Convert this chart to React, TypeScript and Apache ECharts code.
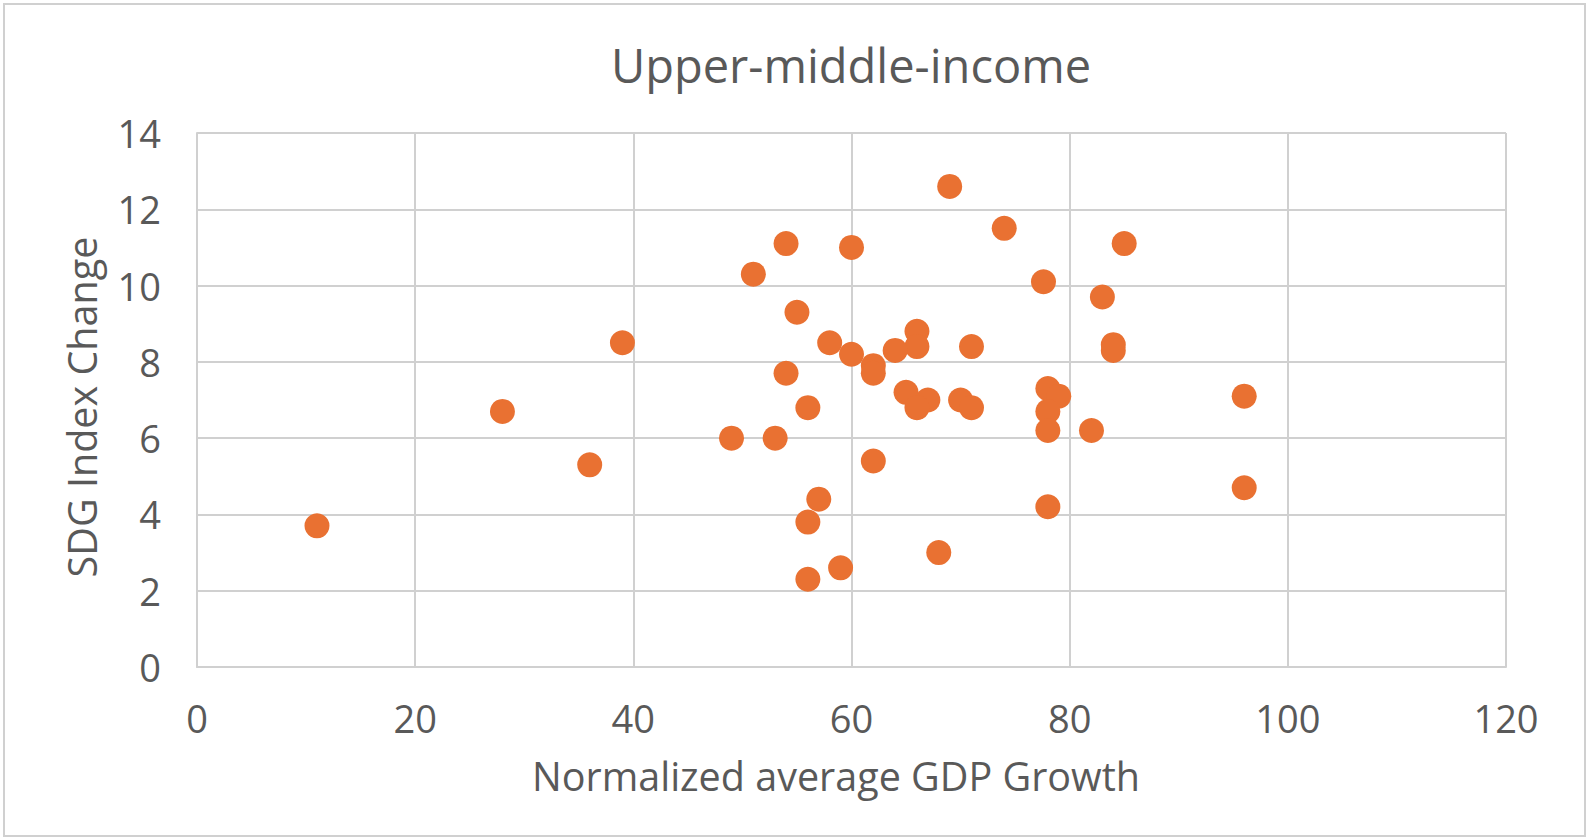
import React, { useEffect, useRef } from "react";
import * as echarts from "echarts";

const gdpGrowth = [11, 28, 36, 39, 69, 74, 85, 54, 60, 51, 77.6, 83, 55, 66, 66, 58, 60, 64, 71, 84, 84, 62, 62, 54, 65, 67, 66, 70, 71, 78, 79, 78, 78, 82, 56, 49, 53, 62, 57, 56, 78, 68, 59, 56, 96, 96];
const sdgChange = [3.7, 6.7, 5.3, 8.5, 12.6, 11.5, 11.1, 11.1, 11.0, 10.3, 10.1, 9.7, 9.3, 8.8, 8.4, 8.5, 8.2, 8.3, 8.4, 8.45, 8.3, 7.9, 7.7, 7.7, 7.2, 7.0, 6.8, 7.0, 6.8, 7.3, 7.1, 6.7, 6.2, 6.2, 6.8, 6.0, 6.0, 5.4, 4.4, 3.8, 4.2, 3.0, 2.6, 2.3, 7.1, 4.7];

const chartTitle = "Upper-middle-income";
const xAxisTitle = "Normalized average GDP Growth";
const yAxisTitle = "SDG Index Change";

const FONT = "'Open Sans', 'Noto Sans', sans-serif";
const TEXT = "#595959";
const GRID = "#d0d0d0";

export default function App() {
  const ref = useRef<HTMLDivElement>(null);
  useEffect(() => {
    document.body.style.margin = "0";
    if (!ref.current) return;
    const chart = echarts.init(ref.current, undefined, { renderer: "svg" });
    const points = gdpGrowth.map((x, i) => [x, sdgChange[i]]);
    chart.setOption({
      animation: false,
      backgroundColor: "#ffffff",
      textStyle: { fontFamily: FONT },
      graphic: [
        {
          type: "rect",
          shape: { x: 4, y: 4, width: 1581, height: 832 },
          style: { fill: "none", stroke: GRID, lineWidth: 2 },
          silent: true,
        },
        {
          type: "text",
          x: 851,
          y: 88,
          style: {
            text: chartTitle,
            fill: TEXT,
            font: `47px ${FONT}`,
            textAlign: "center",
            textVerticalAlign: "bottom",
          },
        },
        {
          type: "text",
          x: 836,
          y: 776,
          style: {
            text: xAxisTitle,
            fill: TEXT,
            font: `39.5px ${FONT}`,
            textAlign: "center",
            textVerticalAlign: "middle",
          },
        },
        {
          type: "text",
          x: 82,
          y: 407,
          rotation: Math.PI / 2,
          style: {
            text: yAxisTitle,
            fill: TEXT,
            font: `39.5px ${FONT}`,
            textAlign: "center",
            textVerticalAlign: "middle",
          },
        },
      ],
      grid: { left: 197, top: 133, width: 1309, height: 534, containLabel: false },
      xAxis: {
        type: "value",
        min: 0,
        max: 120,
        interval: 20,
        axisLine: { show: true, lineStyle: { color: GRID, width: 2 } },
        axisTick: { show: false },
        axisLabel: { color: TEXT, fontSize: 38, margin: 32, fontFamily: FONT },
        splitLine: { show: true, lineStyle: { color: GRID, width: 2 } },
      },
      yAxis: {
        type: "value",
        min: 0,
        max: 14,
        interval: 2,
        axisLine: { show: true, lineStyle: { color: GRID, width: 2 } },
        axisTick: { show: false },
        axisLabel: { color: TEXT, fontSize: 38, margin: 36, fontFamily: FONT },
        splitLine: { show: true, lineStyle: { color: GRID, width: 2 } },
      },
      series: [
        {
          type: "scatter",
          data: points,
          symbol: "circle",
          symbolSize: 25,
          itemStyle: { color: "#E97132", opacity: 1 },
        },
      ],
    });
    return () => chart.dispose();
  }, []);
  return <div ref={ref} style={{ width: 1590, height: 840 }} />;
}
